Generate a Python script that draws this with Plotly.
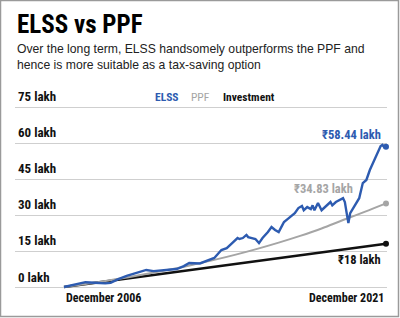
import plotly.graph_objects as go
import pandas as pd

# ---------------- data (values in lakh) ----------------
inv_dates = [f"{y}-12-01" for y in range(2006, 2022)]
investment = [0, 1.2, 2.4, 3.6, 4.8, 6.0, 7.2, 8.4, 9.6, 10.8, 12.0, 13.2, 14.4, 15.6, 16.8, 18.0]
ppf = [0, 1.25, 2.6, 4.1, 5.7, 7.4, 9.3, 11.3, 13.5, 15.9, 18.5, 21.3, 24.4, 27.9, 31.3, 34.83]

elss_dates = ["2006-12", "2007-06", "2007-12", "2008-05", "2008-11", "2009-02", "2009-06", "2009-11",
              "2010-04", "2010-10", "2011-02", "2011-06", "2011-10", "2012-03", "2012-07", "2012-10",
              "2013-04", "2013-08", "2013-12", "2014-04", "2014-07", "2014-10", "2015-01", "2015-02",
              "2015-04", "2015-06", "2015-07", "2015-09", "2015-11", "2016-01", "2016-03", "2016-06",
              "2016-08", "2016-10", "2016-12", "2017-02", "2017-03", "2017-05", "2017-08", "2017-09",
              "2017-11", "2018-01", "2018-02", "2018-04", "2018-06", "2018-07", "2018-08", "2018-10",
              "2018-12", "2019-03", "2019-05", "2019-06", "2019-08", "2019-12", "2020-01", "2020-02",
              "2020-03", "2020-04", "2020-06", "2020-09", "2020-11", "2021-01", "2021-03", "2021-05",
              "2021-06", "2021-08", "2021-09", "2021-10", "2021-11", "2021-12"]
elss = [0, 1.0, 2.0, 1.8, 1.5, 1.7, 3.2, 4.6,
        5.8, 7.1, 6.6, 6.9, 7.0, 7.5, 8.7, 10.0,
        9.8, 10.8, 12.1, 15.4, 16.2, 18.3, 20.4, 20.0,
        20.4, 21.7, 20.8, 20.4, 20.0, 18.3, 20.4, 22.9,
        25.0, 23.75, 22.9, 25.8, 27.1, 28.3, 30.0, 30.8,
        32.9, 33.75, 32.0, 33.3, 32.5, 34.0, 32.0, 35.0,
        32.0, 34.0, 35.4, 34.0, 35.4, 37.0, 35.4, 30.8,
        26.7, 30.8, 33.3, 37.0, 43.3, 44.6, 48.75, 52.0,
        54.2, 57.0, 58.75, 59.2, 58.3, 58.44]
elss_dates = [d + "-01" for d in elss_dates]

y_ticks = [0, 15, 30, 45, 60, 75]
y_tick_labels = [f"{v} lakh" for v in y_ticks]
x_labels = ["December 2006", "December 2021"]
end_labels = ["₹58.44 lakh", "₹34.83 lakh", "₹18 lakh"]

# ---------------- styling ----------------
W, H = 400, 318
BLUE = "#2d5bb0"
GREY = "#a5a5a5"
BLACK = "#111111"
GRID = "#cfcfcf"
NARROW = "Liberation Sans Narrow, Arial Narrow, Roboto Condensed, Liberation Sans, sans-serif"
SANS = "Liberation Sans, Arial, Helvetica, sans-serif"

# pixel layout
px_left, px_right = 15, 387
px_top, px_bottom = 100, 295
start = pd.Timestamp("2006-12-01")
end = pd.Timestamp("2021-12-01")
x_start_px, x_end_px = 64, 386
per_px = (end - start) / (x_end_px - x_start_px)
x_range = [start - per_px * (x_start_px - px_left), end + per_px * (px_right - x_end_px)]
y_per_px = 15 / 36.0
y_range = [0 - (px_bottom - 287) * y_per_px, 0 + (287 - px_top) * y_per_px]

fig = go.Figure()
fig.add_trace(go.Scatter(x=inv_dates, y=investment, mode="lines", line=dict(color=BLACK, width=2.5),
                         hoverinfo="skip"))
fig.add_trace(go.Scatter(x=inv_dates, y=ppf, mode="lines", line=dict(color=GREY, width=2, shape="spline"),
                         hoverinfo="skip"))
fig.add_trace(go.Scatter(x=elss_dates, y=elss, mode="lines", line=dict(color=BLUE, width=2.4),
                         hoverinfo="skip"))
# end markers
fig.add_trace(go.Scatter(x=[inv_dates[-1], inv_dates[-1], elss_dates[-1]],
                         y=[investment[-1], ppf[-1], elss[-1]], mode="markers",
                         marker=dict(color=[BLACK, GREY, BLUE], size=6), cliponaxis=False,
                         hoverinfo="skip"))

annotations = []
# title and subtitle
annotations.append(dict(x=15 / W, y=1 - 25 / H, xref="paper", yref="paper", xanchor="left", yanchor="middle",
                        text="<b>ELSS vs PPF</b>", showarrow=False,
                        font=dict(family=NARROW, size=25, color="#000")))
annotations.append(dict(x=15 / W, y=1 - 40 / H, xref="paper", yref="paper", xanchor="left", yanchor="top",
                        text="Over the long term, ELSS handsomely outperforms the PPF and<br>"
                             "hence is more suitable as a tax-saving option",
                        align="left", showarrow=False,
                        font=dict(family=SANS, size=12.2, color="#222")))
# y tick labels
for v, lab in zip(y_ticks, y_tick_labels):
    annotations.append(dict(x=16 / W, y=v, xref="paper", yref="y", xanchor="left", yanchor="middle",
                            yshift=10, text=f"<b>{lab}</b>", showarrow=False,
                            font=dict(family=NARROW, size=13, color="#111")))
# legend
for txt, col, xp in [("ELSS", BLUE, 153), ("PPF", GREY, 189), ("Investment", BLACK, 221)]:
    annotations.append(dict(x=xp / W, y=75, xref="paper", yref="y", xanchor="left", yanchor="middle",
                            yshift=10, text=f"<b>{txt}</b>" if txt != "PPF" else txt, showarrow=False,
                            font=dict(family=NARROW, size=11.5, color=col)))
# x labels
annotations.append(dict(x=inv_dates[0], y=0, xref="x", yref="y", xanchor="left", yanchor="middle",
                        yshift=-11, text=f"<b>{x_labels[0]}</b>", showarrow=False,
                        font=dict(family=NARROW, size=12, color="#111")))
annotations.append(dict(x=inv_dates[-1], y=0, xref="x", yref="y", xanchor="right", yanchor="middle",
                        yshift=-11, text=f"<b>{x_labels[1]}</b>", showarrow=False,
                        font=dict(family=NARROW, size=12, color="#111")))
# end value labels
annotations.append(dict(x=elss_dates[-1], y=elss[-1], xref="x", yref="y", xanchor="right", yanchor="middle",
                        xshift=-3, yshift=12, text=f"<b>{end_labels[0]}</b>", showarrow=False,
                        font=dict(family=NARROW, size=12.5, color=BLUE)))
annotations.append(dict(x=inv_dates[-1], y=ppf[-1], xref="x", yref="y", xanchor="right", yanchor="middle",
                        xshift=-31, yshift=15, text=f"<b>{end_labels[1]}</b>", showarrow=False,
                        font=dict(family=NARROW, size=12.5, color=GREY)))
annotations.append(dict(x=inv_dates[-1], y=investment[-1], xref="x", yref="y", xanchor="right", yanchor="middle",
                        xshift=-3, yshift=-16, text=f"<b>{end_labels[2]}</b>", showarrow=False,
                        font=dict(family=NARROW, size=12.5, color=BLACK)))

fig.update_layout(
    width=W, height=H, margin=dict(l=0, r=0, t=0, b=0),
    paper_bgcolor="white", plot_bgcolor="white", showlegend=False,
    annotations=annotations,
    shapes=[dict(type="rect", xref="paper", yref="paper", x0=0.5 / W, x1=1 - 1.5 / W, y0=1.5 / H, y1=1 - 0.5 / H,
                 line=dict(color="#9a9a9a", width=1.5), layer="above")],
    xaxis=dict(domain=[px_left / W, px_right / W], range=x_range, showgrid=False, zeroline=False,
               showticklabels=False, ticks="", showline=False, fixedrange=True),
    yaxis=dict(domain=[1 - px_bottom / H, 1 - px_top / H], range=y_range, tickvals=y_ticks,
               showgrid=True, gridcolor=GRID, gridwidth=1.2, zeroline=False, showticklabels=False,
               ticks="", showline=False, fixedrange=True),
)
fig.write_html("out.html")
